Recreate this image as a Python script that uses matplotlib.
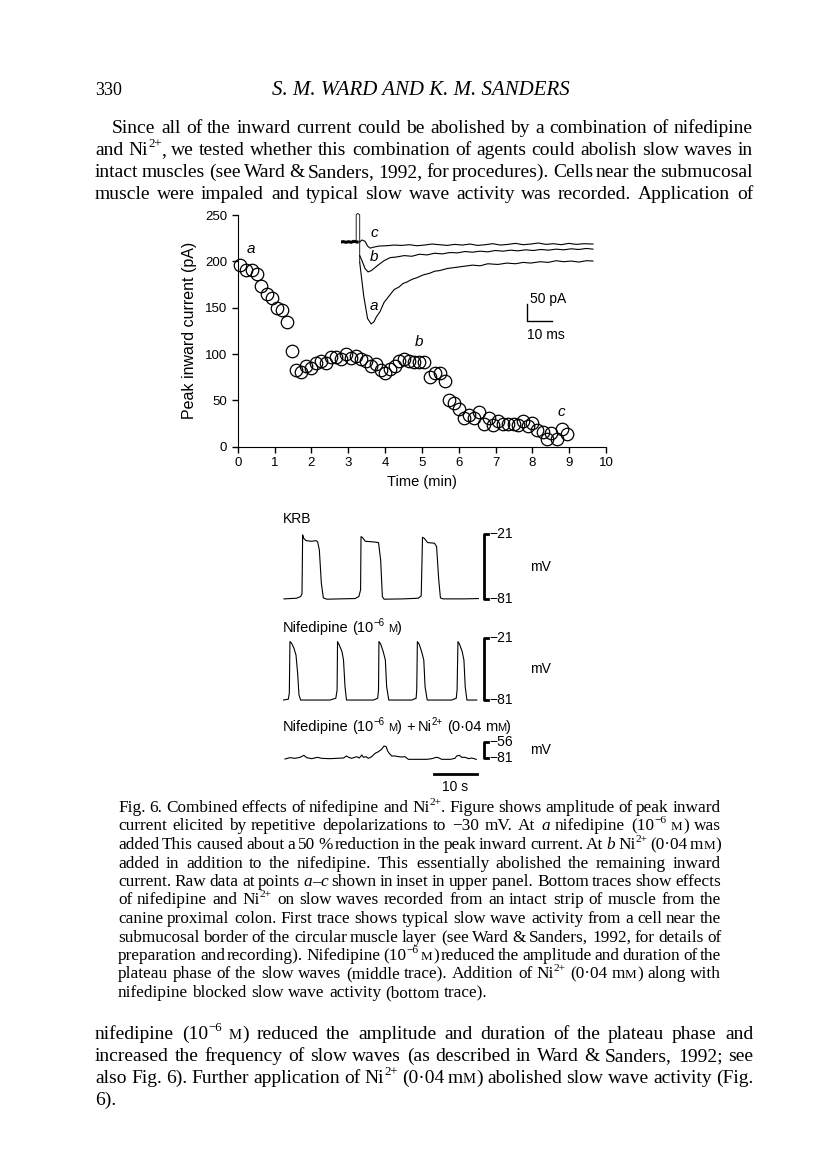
import matplotlib
matplotlib.use("Agg")
import matplotlib.pyplot as plt
from matplotlib.transforms import IdentityTransform

plt.rcParams['font.family'] = ['Liberation Sans', 'DejaVu Sans']
SERIF = ['Liberation Serif', 'DejaVu Serif']
SANS = ['Liberation Sans', 'DejaVu Sans']

W, H = 816, 1160

# ---- peak inward current vs time ----
time_min = [0.06, 0.23, 0.39, 0.53, 0.63, 0.79, 0.92, 1.08, 1.21, 1.33,
            1.47, 1.58, 1.72, 1.86, 1.99, 2.13, 2.26, 2.40, 2.53, 2.67,
            2.81, 2.93, 3.07, 3.20, 3.34, 3.47, 3.61, 3.75, 3.88, 4.00,
            4.14, 4.26, 4.39, 4.52, 4.66, 4.80, 4.93, 5.07, 5.22, 5.36,
            5.49, 5.63, 5.75, 5.88, 6.02, 6.14, 6.28, 6.42, 6.55, 6.68,
            6.81, 6.94, 7.08, 7.21, 7.35, 7.49, 7.61, 7.74, 7.87, 8.00,
            8.14, 8.28, 8.39, 8.52, 8.66, 8.80, 8.93]
peak_pA = [196, 191, 191, 186, 173, 165, 160, 150, 147, 135,
           103, 83, 81, 87, 85, 90, 92, 90, 97, 97,
           95, 100, 96, 98, 95, 92, 87, 89, 83, 80,
           84, 87, 93, 95, 92, 91, 91, 91, 75, 80,
           79, 71, 50, 47, 41, 31, 34, 31, 37, 24,
           31, 23, 28, 24, 24, 24, 23, 28, 22, 26,
           18, 16, 8, 15, 8, 19, 14]
point_labels = ['a', 'b', 'c']
point_label_t = [0.36, 4.93, 8.8]
point_label_i = [213, 113, 37]

# ---- inset raw currents (ms, pA) ----
pre_t = [0, 1, 2, 3, 4, 5, 6.4]
pre_i = [0, 1, -1, 1, -1, 2, 0]
cap_t = [6.0, 6.0, 6.6, 7.4, 7.4]
cap_i = [0, 80, 84, 80, -60]
tc = [7.4, 8.3, 9.5, 10.5, 11.5, 13, 15, 18, 21, 24, 27, 30, 33, 36, 39, 42,
      45, 48, 51, 54, 57, 60, 63, 66, 69, 72, 75, 78, 81, 84, 87, 90, 93, 96, 99.6]
ic = [0, 6, 2, -12, -18, -15, -12, -11, -9, -10, -8, -11, -9, -6, -8, -10,
      -7, -9, -6, -10, -8, -5, -9, -7, -4, -8, -6, -3, -7, -5, -8, -4, -7, -5, -6]
tb = [7.4, 8.3, 9.5, 10.7, 12, 13.5, 15, 17, 19.4, 22, 25, 28, 31, 34, 37, 40,
      43, 46, 49, 52, 55, 58, 61, 64, 67, 70, 73, 76, 79, 82, 85, 88, 91, 94, 97, 99.6]
ib = [-40, -55, -78, -88, -84, -75, -66, -55, -46, -44, -40, -42, -36, -38, -33, -35,
      -31, -32, -28, -30, -27, -29, -25, -27, -24, -26, -23, -25, -22, -24, -21, -23,
      -20, -22, -19, -21]
ta = [7.4, 9, 10.5, 11.9, 13, 14, 15.4, 17, 19.4, 21, 23, 24.5, 26, 28, 30, 32.4,
      35, 37, 39, 42, 45, 48, 52, 55, 58, 62, 65.6, 69, 72, 75, 78.7, 82, 85, 88,
      91, 94, 97, 99.6]
ia = [-60, -160, -225, -241, -235, -220, -205, -178, -155, -140, -132, -122, -118,
      -110, -105, -97, -92, -86, -84, -78, -75, -72, -68, -70, -64, -66, -62, -64,
      -60, -62, -58, -60, -55, -58, -56, -59, -55, -56]

# ---- slow waves (s, mV) ----
krb_t = [0.16, 3.1, 4.07, 4.38, 4.53, 4.77, 5.31, 6.6, 7.66, 8.05, 8.44, 8.91, 9.38,
         10.2, 13.3, 16.8, 17.7, 18.1, 18.2, 18.5, 19.2, 21.2, 22.3, 22.8, 23.2,
         23.6, 28.1, 31.6, 32.3, 32.6, 33.0, 33.8, 35.4, 35.9, 36.4, 36.8, 37.4,
         42.2, 45.7]
krb_v = [-80.9, -80.3, -78.7, -76.2, -21.6, -24.7, -26.9, -27.5, -26.9, -28.1,
         -35.5, -66.4, -80, -81.2, -80.9, -80.6, -78.7, -72.5, -23.2, -23.8, -27.5,
         -28.1, -28.7, -44.8, -78.7, -81.2, -80.9, -80.3, -78.1, -23.8, -24.7, -28.7,
         -29.3, -32.4, -63.3, -80, -80.9, -80.9, -80.6]
nif_t = [0, 1.17, 1.41, 1.56, 1.95, 2.5, 2.97, 3.36, 3.67, 4.06,
         10.9, 12.3, 12.6, 12.7, 13.1, 13.75, 14.1, 14.45, 14.8,
         21.1, 22.1, 22.3, 22.4, 22.8, 23.4, 23.9, 24.2, 24.7,
         30.1, 31.1, 31.25, 31.4, 31.8, 32.4, 32.9, 33.2, 33.7,
         39.45, 40.5, 40.7, 40.9, 41.25, 41.9, 42.3, 42.6, 43.0, 45.3]
nif_v = [-81, -80.2, -74.4, -24.8, -26.4, -31.3, -37.7, -55.3, -76.1, -81,
         -81, -79.3, -71.3, -24.8, -28.1, -34.5, -42.5, -68.1, -81,
         -81, -79.3, -71.3, -24.8, -27.1, -34.5, -42.5, -68.1, -81,
         -81, -79.3, -71.3, -24.8, -27.1, -34.5, -42.5, -68.1, -81,
         -81, -79.3, -71.3, -24.8, -27.1, -34.5, -42.5, -68.1, -81, -81]
ni_t = [0.39, 1.56, 2.73, 3.9, 4.84, 5.47, 6.64, 7.97, 8.98, 10.9, 12.5, 14.1,
        14.8, 15.3, 16.0, 17.2, 17.8, 18.4, 18.75, 19.4, 19.9, 20.7, 21.5, 22.3,
        23.0, 23.6, 24.1, 24.4, 24.8, 25.4, 26.2, 27.0, 27.7, 28.5, 29.3, 31.25,
        33.6, 34.8, 35.8, 36.3, 37.1, 39.1, 40.2, 40.6, 41.25, 41.8, 42.6, 43.4,
        44.1, 45.2]
ni_v = [-82, -80, -81, -79.5, -76.5, -80, -81.5, -79.5, -81, -81.5, -81, -80.5,
        -77.5, -79.5, -81, -78.5, -80.5, -76, -79.5, -78.5, -81, -78.5, -73.5, -71,
        -67.5, -62.5, -63.5, -69.5, -73.5, -77.5, -77.5, -78.5, -79, -78.5, -82.5,
        -82.5, -82.5, -81.5, -79.5, -80, -82.5, -82.5, -81, -77.5, -76.5, -79.5,
        -79.5, -81.5, -80.5, -82.5]

# ---- page text ----
header_left = "330"
header_mid = "S. M. WARD AND K. M. SANDERS"
body_top = [
    "Since all of the inward current could be abolished by a combination of nifedipine",
    "and Ni|^2+|, we tested whether this combination of agents could abolish slow waves in",
    "intact muscles (see Ward & Sanders, 1992, for procedures). Cells near the submucosal",
    "muscle were impaled and typical slow wave activity was recorded. Application of",
]
caption = [
    "Fig. 6. Combined effects of nifedipine and Ni|^2+|. Figure shows amplitude of peak inward",
    "current elicited by repetitive depolarizations to −30 mV. At *a nifedipine (10|^−6 ~M|) was",
    "added This caused about a 50 % reduction in the peak inward current. At *b Ni|^2+ (0·04 m|~M|)",
    "added in addition to the nifedipine. This essentially abolished the remaining inward",
    "current. Raw data at points *a|–|*c shown in inset in upper panel. Bottom traces show effects",
    "of nifedipine and Ni|^2+ on slow waves recorded from an intact strip of muscle from the",
    "canine proximal colon. First trace shows typical slow wave activity from a cell near the",
    "submucosal border of the circular muscle layer (see Ward & Sanders, 1992, for details of",
    "preparation and recording). Nifedipine (10|^−6 ~M|) reduced the amplitude and duration of the",
    "plateau phase of the slow waves (middle trace). Addition of Ni|^2+ (0·04 m|~M|) along with",
    "nifedipine blocked slow wave activity (bottom trace).",
]
body_bottom = [
    "nifedipine (10|^−6 ~M|) reduced the amplitude and duration of the plateau phase and",
    "increased the frequency of slow waves (as described in Ward & Sanders, 1992; see",
    "also Fig. 6). Further application of Ni|^2+ (0·04 m|~M|) abolished slow wave activity (Fig.",
    "6).",
]

fig = plt.figure(figsize=(W / 100, H / 100), dpi=100)
r = fig.canvas.get_renderer()


def box(x0, ytop, x1, ybot):
    return [x0 / W, 1 - ybot / H, (x1 - x0) / W, (ybot - ytop) / H]


def make_word(word, size, family):
    parts = []
    for seg in word.split('|'):
        style, fs, dy = 'normal', size, 0.0
        if seg.startswith('*'):
            style, seg = 'italic', seg[1:]
        elif seg.startswith('^'):
            fs, dy, seg = size * 0.66, round(size * 0.42 * 100 / 72), seg[1:]
        elif seg.startswith('~'):
            fs, seg = size * 0.76, seg[1:]
        t = fig.text(0, 0, seg, transform=IdentityTransform(), fontsize=fs,
                     fontstyle=style, family=family, va='baseline', ha='left')
        parts.append((t, t.get_window_extent(r).width, dy))
    return parts, sum(p[1] for p in parts)


def text_line(line, x0, ybase, size, family=SERIF, x1=None):
    words = [make_word(w, size, family) for w in line.split(' ')]
    total = sum(w[1] for w in words)
    gap = size * 100 / 72 * 0.25
    if x1 is not None and len(words) > 1:
        gap = (x1 - x0 - total) / (len(words) - 1)
    x = x0
    yb = round(H - ybase)
    for parts, wtot in words:
        for t, w, dy in parts:
            t.set_position((round(x), yb + dy))
            x += w
        x += gap


# header and top paragraph
fig.text(95 / W, 1 - 95 / H, header_left, family=SERIF, fontsize=13, va='baseline')
fig.text(421 / W, 1 - 95 / H, header_mid, family=SERIF, fontsize=15,
         fontstyle='italic', ha='center', va='baseline')
for k, line in enumerate(body_top):
    text_line(line, 112 if k == 0 else 95, 133 + 22 * k, 14, x1=753)

# ---- main scatter plot ----
ax = fig.add_axes(box(237.7, 215, 606, 446.7))
ax.plot(time_min, peak_pA, 'o', mfc='none', mec='k', ms=9, mew=0.9, clip_on=False)
for lab, tx, iy in zip(point_labels, point_label_t, point_label_i):
    ax.text(tx, iy, lab, fontstyle='italic', fontsize=11, ha='center', va='center')
ax.set_xlim(0, 10)
ax.set_ylim(0, 250)
ax.set_xticks(range(0, 11))
ax.set_yticks(range(0, 251, 50))
ax.spines['top'].set_visible(False)
ax.spines['right'].set_visible(False)
ax.tick_params(direction='out', length=4, width=1, labelsize=9.5)
ax.set_xlabel('Time (min)', fontsize=10.5, labelpad=4)
ax.set_ylabel('Peak inward current (pA)', fontsize=11.5, labelpad=6)

# inset with raw currents
ins = fig.add_axes(box(341, 210, 594, 330))
ins.set_xlim(0, 100)
ins.set_ylim(-258.8, 94.1)
ins.axis('off')
ins.plot(pre_t, pre_i, color='k', lw=2.2)
ins.plot(cap_t, cap_i, color='k', lw=0.6)
for tt, ii in [(tc, ic), (tb, ib), (ta, ia)]:
    ins.plot(tt, ii, color='k', lw=0.8)
for lab, yy in zip(['c', 'b', 'a'], [26, -43, -188]):
    ins.text(11.5, yy, lab, fontstyle='italic', fontsize=11, ha='left', va='center')
ins.plot([73.4, 73.4, 83.4], [-181, -231, -231], color='k', lw=1, clip_on=False)
ins.text(74.6, -168, '50 pA', fontsize=10, ha='left', va='center')
ins.text(73.5, -273, '10 ms', fontsize=10, ha='left', va='center')

# ---- slow wave traces ----
x0_tr = 283.3
x1_tr = x0_tr + 60 * 4.27
ax_k = fig.add_axes(box(x0_tr, 527.8, x1_tr, 603.3))
ax_n = fig.add_axes(box(x0_tr, 631.4, x1_tr, 704.2))
ax_i = fig.add_axes(box(x0_tr, 741.0, x1_tr, 761.0))
ax_k.set_ylim(-85, -15)
ax_n.set_ylim(-85, -15)
ax_i.set_ylim(-85, -55)
for a_, tt, vv, lo, hi in [(ax_k, krb_t, krb_v, -81, -21),
                           (ax_n, nif_t, nif_v, -81, -21),
                           (ax_i, ni_t, ni_v, -81, -56)]:
    a_.set_xlim(0, 60)
    a_.axis('off')
    a_.plot(tt, vv, color='k', lw=0.8)
    a_.plot([48, 47, 47, 48], [lo, lo, hi, hi], color='k', lw=2, clip_on=False)
    a_.text(48.3, hi, f'−{-hi}', fontsize=10, ha='left', va='center')
    a_.text(48.3, lo, f'−{-lo}', fontsize=10, ha='left', va='center')
    a_.text(57.8, (lo + hi) / 2, 'mV', fontsize=10, ha='left', va='center')

ax_i.plot([35.3, 45.3], [-104.5, -104.5], color='k', lw=2, clip_on=False)
ax_i.text(40.3, -123.7, '10 s', fontsize=10, ha='center', va='center')

text_line("KRB", 283, 523, 10, family=SANS)
text_line("Nifedipine (10|^−6 ~M|)", 283, 632, 10.5, family=SANS)
text_line("Nifedipine (10|^−6 ~M|) + Ni|^2+ (0·04 m|~M|)", 283, 731, 10.5, family=SANS)

# ---- caption and following paragraph ----
for k, line in enumerate(caption):
    last = k == len(caption) - 1
    text_line(line, 118, 812 + 18.5 * k, 12.4, x1=None if last else 721)
for k, line in enumerate(body_bottom):
    last = k == len(body_bottom) - 1
    text_line(line, 95, 1039 + 22 * k, 14, x1=None if last else 753)

fig.savefig("out.png", dpi=100)
